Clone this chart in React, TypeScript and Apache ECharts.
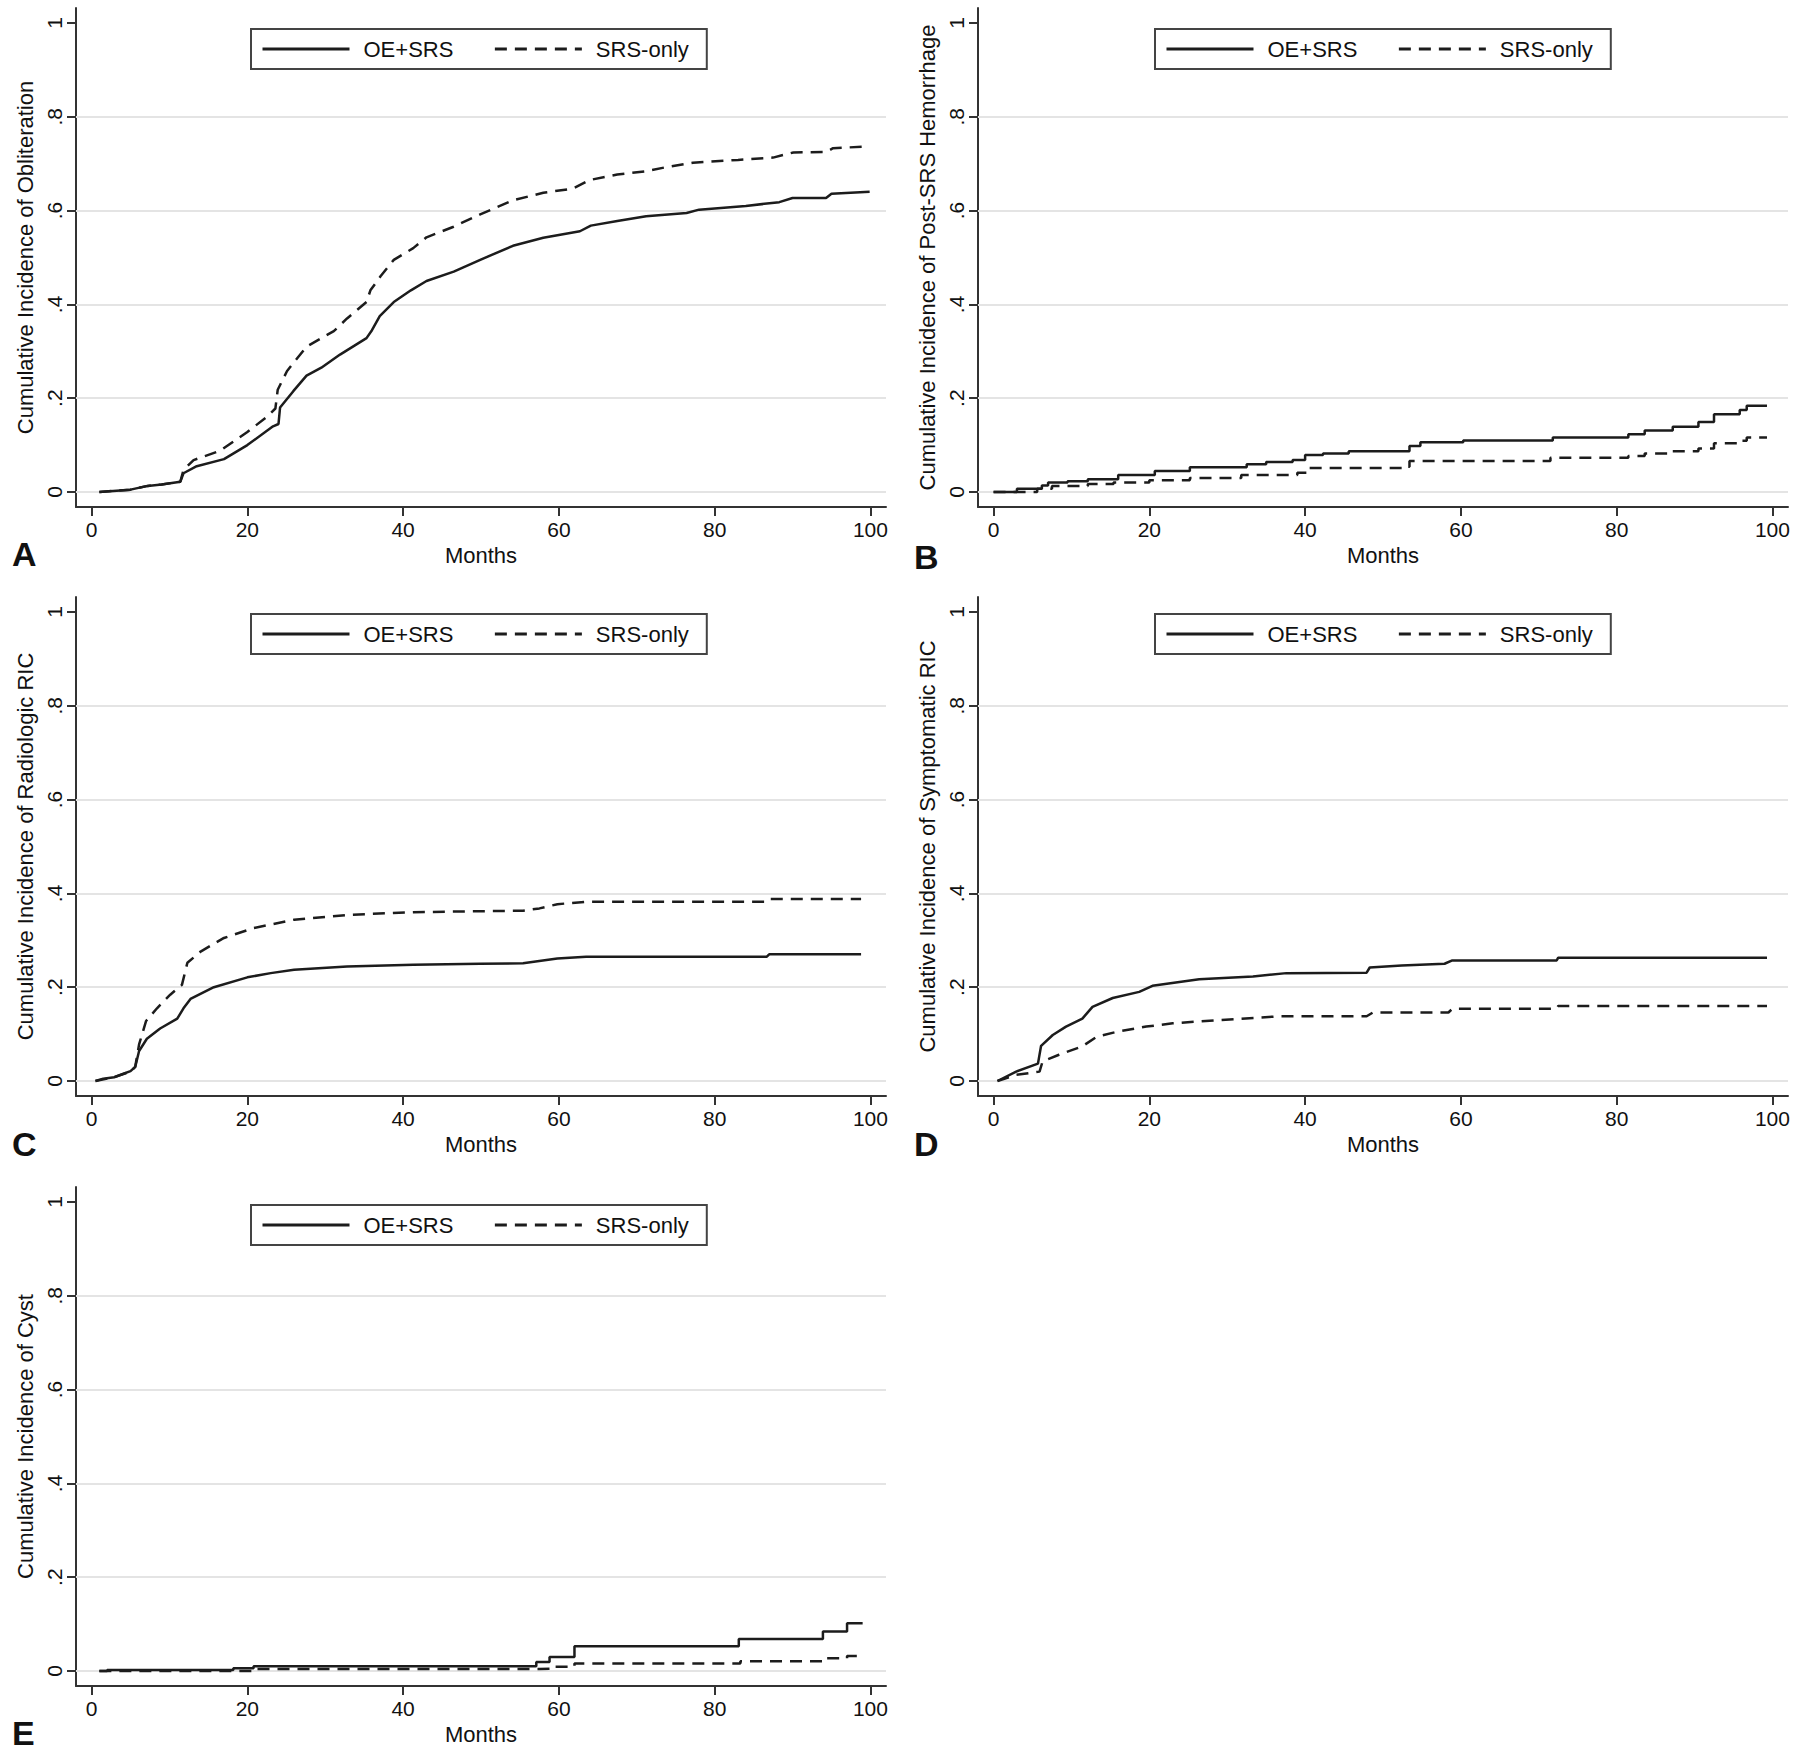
import React, { useEffect, useRef } from "react";
import * as echarts from "echarts";

const FONT = "'Liberation Sans', Arial, Helvetica, sans-serif";

// ---------- data (months, cumulative incidence) ----------
const seriesNames = ["OE+SRS", "SRS-only"];
const xTicks = [0, 20, 40, 60, 80, 100];
const yTicks = [0, 0.2, 0.4, 0.6, 0.8, 1];
const gridLineValues = [0, 0.2, 0.4, 0.6, 0.8];
const panelLetters = ["A", "B", "C", "D", "E"];
const yTitles = [
  "Cumulative Incidence of Obliteration",
  "Cumulative Incidence of Post-SRS Hemorrhage",
  "Cumulative Incidence of Radiologic RIC",
  "Cumulative Incidence of Symptomatic RIC",
  "Cumulative Incidence of Cyst",
];

// A: Obliteration
const obliterationOE: [number, number][] = [
  [1, 0], [5, 0.005], [7.2, 0.013], [9, 0.016], [11.4, 0.022], [11.8, 0.04], [13.5, 0.055],
  [17, 0.07], [20, 0.1], [23.3, 0.14], [24, 0.145], [24.2, 0.18], [25.9, 0.215], [27.6, 0.248],
  [29.5, 0.265], [31.9, 0.293], [35.3, 0.328], [36, 0.345], [37, 0.375], [38.8, 0.405],
  [41, 0.43], [43, 0.45], [46.5, 0.47], [49.9, 0.495], [54.1, 0.525], [58, 0.542],
  [62.7, 0.556], [64.1, 0.568], [67.5, 0.578], [71.2, 0.588], [76.4, 0.595], [78, 0.602],
  [84, 0.61], [88.3, 0.618], [90, 0.627], [94.3, 0.627], [95, 0.636], [99.9, 0.64],
];
const obliterationSRS: [number, number][] = [
  [1, 0], [5, 0.005], [7.2, 0.013], [9, 0.016], [11.4, 0.022], [11.8, 0.047], [13.1, 0.068],
  [16.5, 0.088], [20, 0.128], [22.5, 0.16], [23.6, 0.178], [23.9, 0.218], [25.1, 0.258],
  [27.6, 0.31], [31.1, 0.343], [32.8, 0.37], [35.3, 0.405], [35.8, 0.43], [37.1, 0.46],
  [38.8, 0.495], [41.3, 0.52], [43, 0.543], [46.4, 0.565], [49.9, 0.592], [54.1, 0.622],
  [58, 0.638], [61.8, 0.647], [63.9, 0.665], [67.5, 0.677], [71.2, 0.684], [73.6, 0.692],
  [77.2, 0.702], [83, 0.708], [87.5, 0.713], [90.1, 0.724], [94.3, 0.725], [95.2, 0.733],
  [99.9, 0.737],
];

// B: Post-SRS hemorrhage (step functions)
const hemorrhageOE: [number, number][] = [
  [0, 0], [3, 0.007], [6.2, 0.014], [7, 0.02], [9.5, 0.023], [12.1, 0.027], [16, 0.036],
  [20.7, 0.045], [25.2, 0.053], [32.5, 0.059], [35, 0.064], [38.4, 0.068], [40, 0.079],
  [42.3, 0.082], [45.6, 0.087], [53.4, 0.098], [54.8, 0.106], [60.3, 0.11], [71.8, 0.116],
  [81.5, 0.123], [83.6, 0.131], [87.2, 0.139], [90.5, 0.149], [92.5, 0.166], [95.8, 0.175],
  [96.7, 0.184], [99.3, 0.184],
];
const hemorrhageSRS: [number, number][] = [
  [0, 0], [5.6, 0.007], [7.5, 0.013], [12.1, 0.017], [15.4, 0.02], [20, 0.025], [25.2, 0.03],
  [31.8, 0.036], [39, 0.041], [40.3, 0.051], [52.8, 0.054], [53.4, 0.066], [71.5, 0.073],
  [81.5, 0.077], [83.6, 0.082], [87.2, 0.087], [90.5, 0.093], [92.5, 0.104], [95.8, 0.109],
  [96.7, 0.116], [99.3, 0.116],
];

// C: Radiologic RIC
const radiologicOE: [number, number][] = [
  [0.5, 0], [1.5, 0.005], [2.9, 0.008], [4, 0.015], [5, 0.021], [5.6, 0.03], [6.1, 0.064],
  [7.1, 0.09], [8.8, 0.112], [11, 0.133], [11.8, 0.155], [12.7, 0.175], [15.7, 0.2],
  [20, 0.221], [23, 0.23], [26, 0.237], [32.8, 0.244], [41.3, 0.248], [49.9, 0.25],
  [55.4, 0.251], [59.8, 0.261], [63.5, 0.265], [86.7, 0.265], [87, 0.27], [98.8, 0.27],
];
const radiologicSRS: [number, number][] = [
  [0.5, 0], [2.9, 0.008], [5, 0.02], [5.6, 0.03], [6.1, 0.078], [7, 0.128], [8.4, 0.155],
  [10.1, 0.184], [11.6, 0.205], [12.3, 0.252], [14, 0.276], [17, 0.305], [20.8, 0.326],
  [26, 0.344], [32.8, 0.354], [41.3, 0.36], [49.9, 0.362], [55.4, 0.363], [57.5, 0.368],
  [59.8, 0.377], [63.5, 0.382], [86.7, 0.382], [87, 0.388], [98.8, 0.388],
];

// D: Symptomatic RIC
const symptomaticOE: [number, number][] = [
  [0.5, 0], [2.9, 0.02], [5.7, 0.037], [6.1, 0.075], [7.6, 0.098], [9.3, 0.116],
  [11.4, 0.133], [12.7, 0.158], [15.3, 0.177], [18.7, 0.19], [20.4, 0.203], [26.4, 0.217],
  [33.3, 0.223], [37.6, 0.23], [47.9, 0.231], [48.3, 0.242], [52.4, 0.246], [57.9, 0.25],
  [58.9, 0.257], [72.3, 0.257], [72.5, 0.263], [99.3, 0.263],
];
const symptomaticSRS: [number, number][] = [
  [0.5, 0], [2.9, 0.013], [5.9, 0.02], [6.3, 0.042], [8.4, 0.056], [11.4, 0.074],
  [13.2, 0.094], [16.1, 0.106], [19.6, 0.116], [23, 0.123], [29, 0.13], [36.7, 0.138],
  [47.9, 0.138], [48.7, 0.146], [58.4, 0.146], [58.9, 0.154], [72.3, 0.154], [72.5, 0.16],
  [99.3, 0.16],
];

// E: Cyst (step functions)
const cystOE: [number, number][] = [
  [1, 0], [2, 0.002], [18.2, 0.006], [20.8, 0.01], [57.1, 0.019], [58.8, 0.03], [62, 0.053],
  [83.1, 0.068], [93.9, 0.084], [97, 0.102], [99, 0.102],
];
const cystSRS: [number, number][] = [
  [1, 0], [21, 0.004], [57.5, 0.005], [59.5, 0.009], [62, 0.016], [83.3, 0.021],
  [93.8, 0.027], [97, 0.032], [99, 0.032],
];

const panelData = [
  { oe: obliterationOE, srs: obliterationSRS, step: false },
  { oe: hemorrhageOE, srs: hemorrhageSRS, step: true },
  { oe: radiologicOE, srs: radiologicSRS, step: false },
  { oe: symptomaticOE, srs: symptomaticSRS, step: false },
  { oe: cystOE, srs: cystSRS, step: true },
];

// ---------- layout ----------
const gridLefts = [76, 978, 76, 978, 76];
const gridTops = [8, 8, 597, 597, 1187];
const GRID_W = 810;
const GRID_H = 499;
const legendLefts = [251, 1155, 251, 1155, 251];
const legendTops = [29, 29, 614, 614, 1205];
const letterPos = [
  [7, 532],
  [909, 535],
  [7, 1122],
  [909, 1122],
  [7, 1711],
];

const INK = "#1c1c1c";
const AXIS = "#333333";

function fmtY(v: number): string {
  if (v === 0) return "0";
  if (v === 1) return "1";
  return "." + Math.round(v * 10);
}

function buildOption(): any {
  const grid: any[] = [];
  const xAxis: any[] = [];
  const yAxis: any[] = [];
  const series: any[] = [];
  const legend: any[] = [];
  const title: any[] = [];

  panelData.forEach((p, i) => {
    grid.push({ left: gridLefts[i], top: gridTops[i], width: GRID_W, height: GRID_H, containLabel: false });
    xAxis.push({
      gridIndex: i,
      type: "value",
      min: -2,
      max: 102,
      axisLine: { show: true, onZero: false, lineStyle: { color: AXIS, width: 2 } },
      axisTick: { show: true, inside: false, length: 9, customValues: xTicks, lineStyle: { color: AXIS, width: 2 } },
      axisLabel: { show: true, customValues: xTicks, fontSize: 21, color: "#111", margin: 12, fontFamily: FONT },
      splitLine: { show: false },
      name: "Months",
      nameLocation: "middle",
      nameGap: 37,
      nameTextStyle: { fontSize: 22, color: "#111", fontFamily: FONT },
    });
    yAxis.push({
      gridIndex: i,
      type: "value",
      min: -0.032,
      max: 1.032,
      axisLine: { show: true, onZero: false, lineStyle: { color: AXIS, width: 2 } },
      axisTick: { show: true, inside: false, length: 9, customValues: yTicks, lineStyle: { color: AXIS, width: 2 } },
      axisLabel: {
        show: true,
        customValues: yTicks,
        rotate: 90,
        fontSize: 21,
        color: "#111",
        margin: 11,
        fontFamily: FONT,
        formatter: (v: number) => fmtY(v),
      },
      splitLine: { show: false },
      name: yTitles[i],
      nameLocation: "middle",
      nameGap: 40,
      nameTextStyle: { fontSize: 22, color: "#111", fontFamily: FONT },
    });
    series.push({
      type: "line",
      name: seriesNames[0],
      xAxisIndex: i,
      yAxisIndex: i,
      data: p.oe,
      step: p.step ? "end" : false,
      showSymbol: false,
      symbol: "none",
      z: 4,
      lineStyle: { color: INK, width: 2.5, type: "solid" },
      itemStyle: { color: INK },
      markLine: {
        silent: true,
        symbol: ["none", "none"],
        z: 1,
        label: { show: false },
        lineStyle: { color: "#e4e4e4", width: 2, type: "solid" },
        data: gridLineValues.map((v) => ({ yAxis: v })),
      },
    });
    series.push({
      type: "line",
      name: seriesNames[1],
      xAxisIndex: i,
      yAxisIndex: i,
      data: p.srs,
      step: p.step ? "end" : false,
      showSymbol: false,
      symbol: "none",
      z: 4,
      lineStyle: { color: INK, width: 2.5, type: [12, 8] },
      itemStyle: { color: INK },
    });
    legend.push({
      data: seriesNames,
      left: legendLefts[i],
      top: legendTops[i],
      orient: "horizontal",
      itemWidth: 87,
      itemHeight: 14,
      itemGap: 40,
      padding: [9, 18, 9, 10],
      borderColor: "#444",
      borderWidth: 2,
      backgroundColor: "#fff",
      selectedMode: false,
      itemStyle: { color: "rgba(0,0,0,0)", borderWidth: 0, opacity: 0 },
      lineStyle: { width: 3, color: INK },
      textStyle: { fontSize: 22, color: "#111", fontFamily: FONT, padding: [0, 0, 0, 9] },
    });
    title.push({
      text: panelLetters[i],
      left: letterPos[i][0],
      top: letterPos[i][1],
      textStyle: { fontSize: 34, fontWeight: "bold", color: "#111", fontFamily: FONT },
    });
  });

  return {
    animation: false,
    backgroundColor: "#ffffff",
    title,
    legend,
    grid,
    xAxis,
    yAxis,
    series,
  };
}

export default function App() {
  const ref = useRef<HTMLDivElement>(null);
  useEffect(() => {
    if (!ref.current) return;
    const chart = echarts.init(ref.current, undefined, { renderer: "svg" });
    chart.setOption(buildOption());
    return () => chart.dispose();
  }, []);
  return (
    <div
      ref={ref}
      style={{ position: "absolute", left: 0, top: 0, width: 1800, height: 1751, background: "#fff" }}
    />
  );
}
